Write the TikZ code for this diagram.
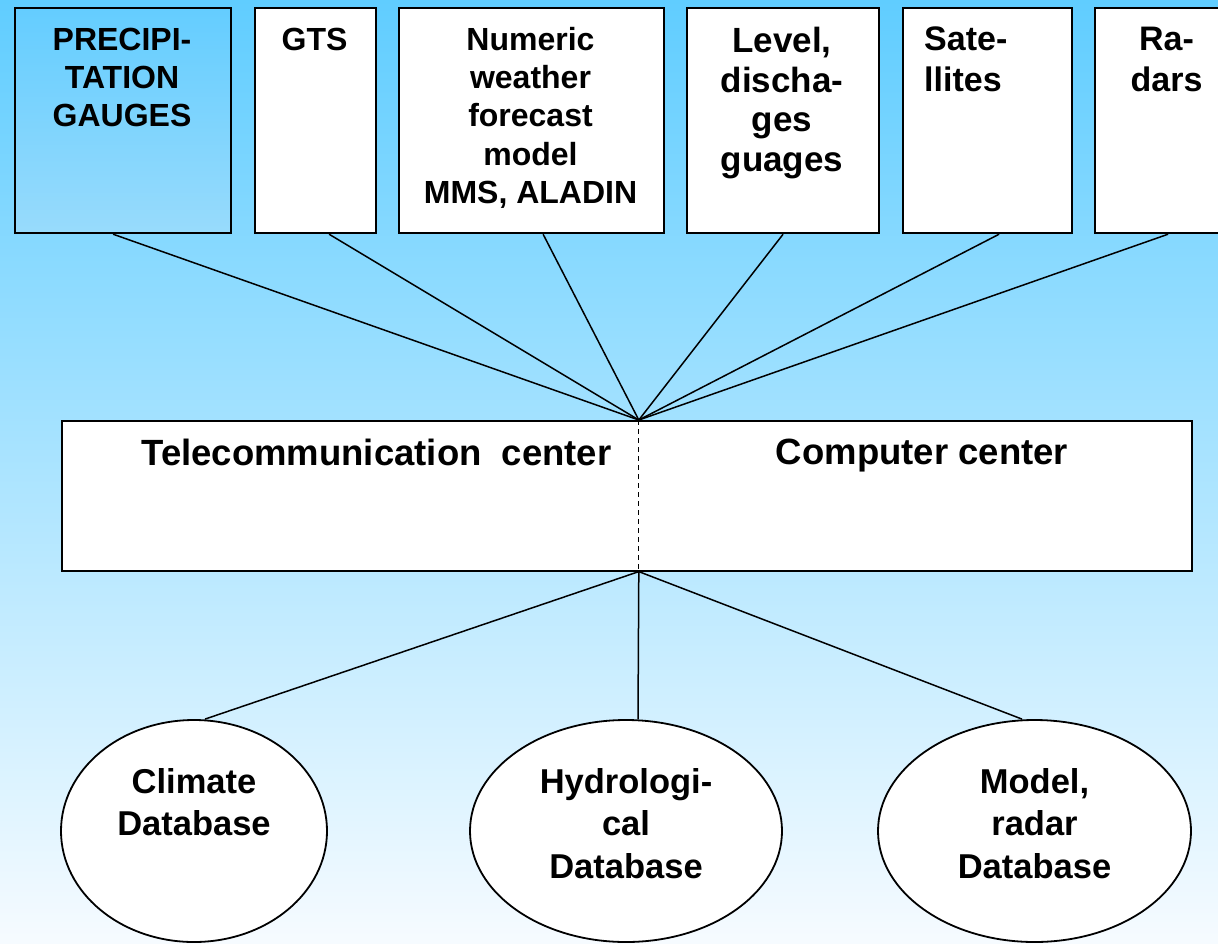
\documentclass[tikz,border=0pt]{standalone}
\usepackage{fontspec}
\setmainfont{Liberation Sans}
\usetikzlibrary{shapes.geometric,calc}

\definecolor{skytop}{RGB}{96,205,255}
\definecolor{skymid}{RGB}{185,230,252}
\definecolor{skybot}{RGB}{246,251,255}
\definecolor{gaugetop}{RGB}{100,205,255}
\definecolor{gaugebot}{RGB}{152,219,252}

\newcommand{\srcfont}{\bfseries\fontsize{32pt}{38.3pt}\selectfont}
\newcommand{\levelfont}{\bfseries\fontsize{35pt}{39.5pt}\selectfont}
\newcommand{\satfont}{\bfseries\fontsize{34pt}{41pt}\selectfont}
\newcommand{\ctrfont}{\bfseries\fontsize{36.5pt}{40pt}\selectfont}
\newcommand{\dbfont}{\bfseries\fontsize{34.5pt}{42.5pt}\selectfont}

\begin{document}
\begin{tikzpicture}[x=1pt, y=-1pt,
    srcbox/.style={draw, line width=2.2pt, fill=white, anchor=north west, inner sep=0pt, minimum height=225pt},
    srctext/.style={anchor=north, align=center, inner sep=0pt},
    dbnode/.style={draw, ellipse, line width=1.8pt, fill=white, inner sep=0pt, minimum height=222pt},
    link/.style={line width=1.5pt}]
  \useasboundingbox (0,0) rectangle (1218,943);
  \clip (0,0) rectangle (1218,943);
  \shade [top color=skytop, middle color=skymid, bottom color=skybot] (0,0) rectangle (1218,943); % Background

  % sources
  \node [srcbox, minimum width=216pt, top color=gaugetop, bottom color=gaugebot] (gauges) at (14,7) {};
  \node [srcbox, minimum width=121pt] (gts) at (254,7) {};
  \node [srcbox, minimum width=265pt] (nwp) at (398,7) {};
  \node [srcbox, minimum width=192pt] (level) at (686,7) {};
  \node [srcbox, minimum width=169pt] (sat) at (902,7) {};
  \node [srcbox, minimum width=150pt] (radar) at (1094,7) {};

  \node [srctext, font=\srcfont] (gaugestxt) at (122,27.5) {PRECIPI-\\TATION\\GAUGES};
  \node [srctext, font=\srcfont] (gtstxt) at (314.5,27.5) {GTS};
  \node [srctext, font=\srcfont] (nwptxt) at (530.5,27) {Numeric\\weather\\forecast\\model\\MMS, ALADIN};
  \node [srctext, font=\levelfont] (leveltxt) at (782,27) {Level,\\discha-\\ges\\guages};
  \node [srctext, font=\satfont, anchor=north west, align=left] (sattxt) at (924,27) {Sate-\\llites};
  \node [srctext, font=\satfont] (radartxt) at (1166.5,27) {Ra-\\dars};

  % centers
  \node [draw, line width=1.6pt, fill=white, anchor=north west, inner sep=0pt, minimum width=1130pt, minimum height=150pt] (ctr) at (61,420) {};
  \coordinate (hubtop) at ($(ctr.north)+(12,0)$);
  \coordinate (hubbot) at ($(ctr.south)+(12,0)$);
  \draw [line width=1.3pt, dash pattern=on 5pt off 4pt] (hubtop) -- (hubbot);
  \node [srctext, font=\ctrfont] (teltxt) at (376.5,439) {Telecommunication\ \ center};
  \node [srctext, font=\ctrfont] (comptxt) at (922,439) {Computer center};

  % databases
  \node [dbnode, minimum width=266pt] (climdb) at (194,831) {};
  \node [dbnode, minimum width=312pt] (hydrodb) at (626,831) {};
  \node [dbnode, minimum width=313pt] (modeldb) at (1034.5,831) {};
  \node [srctext, font=\dbfont] (climtxt) at (194,768) {Climate\\Database};
  \node [srctext, font=\dbfont] (hydrotxt) at (626,768) {Hydrologi-\\cal\\Database};
  \node [srctext, font=\dbfont] (modeltxt) at (1034.5,768) {Model,\\radar\\Database};

  \draw [link] ($(gauges.south)+(-10,0)$) -- (hubtop);
  \draw [link] ($(gts.south)+(13.5,0)$) -- (hubtop);
  \draw [link] ($(nwp.south)+(11.5,0)$) -- (hubtop);
  \draw [link] (level.south) -- (hubtop);
  \draw [link] ($(sat.south)+(11.5,0)$) -- (hubtop);
  \draw [link] ($(radar.south)+(-2,0)$) -- (hubtop);

  \draw [link] (hubbot) -- ($(climdb.north)+(11,0)$);
  \draw [link] (hubbot) -- ($(hydrodb.north)+(12,0)$);
  \draw [link] (hubbot) -- ($(modeldb.north)+(-12.5,0)$);
\end{tikzpicture}
\end{document}
